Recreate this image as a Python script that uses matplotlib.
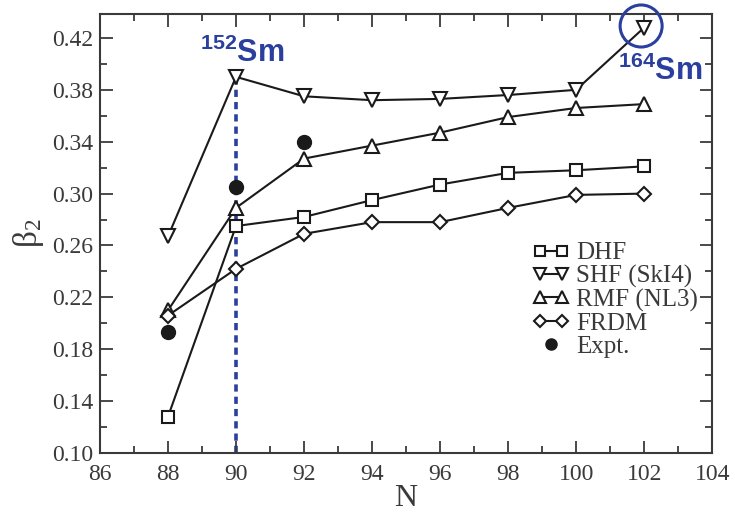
import matplotlib
matplotlib.use("Agg")
import matplotlib.pyplot as plt
from matplotlib.patches import Ellipse
from matplotlib.ticker import MultipleLocator
from matplotlib.legend_handler import HandlerLine2D

# Quadrupole deformation of Sm isotopes versus neutron number
N = [88, 90, 92, 94, 96, 98, 100, 102]
dhf = [0.128, 0.275, 0.282, 0.295, 0.307, 0.316, 0.318, 0.321]
shf = [0.267, 0.390, 0.375, 0.372, 0.373, 0.376, 0.380, 0.428]
rmf = [0.210, 0.289, 0.327, 0.337, 0.347, 0.359, 0.366, 0.369]
frdm = [0.206, 0.242, 0.269, 0.278, 0.278, 0.289, 0.299, 0.300]
expt_N = [88, 90, 92]
expt = [0.193, 0.305, 0.340]

xticks = [86, 88, 90, 92, 94, 96, 98, 100, 102, 104]
yticks = [0.10, 0.14, 0.18, 0.22, 0.26, 0.30, 0.34, 0.38, 0.42]

plt.rcParams["mathtext.fontset"] = "custom"
plt.rcParams["mathtext.rm"] = "Liberation Serif"
plt.rcParams["mathtext.it"] = "Liberation Serif"
plt.rcParams["mathtext.bf"] = "Liberation Sans:bold"

serif = ["Liberation Serif", "DejaVu Serif"]
blue = "#2a3f9e"
dark = "#3a3a3a"
ink = "#1a1a1a"

fig = plt.figure(figsize=(7.35, 5.16), dpi=100)
ax = fig.add_axes([0.136, 0.122, 0.833, 0.851])

def style(ms):
    return dict(color=ink, lw=1.5, markersize=ms, markerfacecolor="white",
                markeredgecolor=ink, markeredgewidth=1.5)

ax.plot(N, dhf, marker="s", label="DHF", **style(9))
ax.plot(N, shf, marker="v", label="SHF (SkI4)", **style(10))
ax.plot(N, rmf, marker="^", label="RMF (NL3)", **style(10))
ax.plot(N, frdm, marker="D", label="FRDM", **style(7.5))
expt_line, = ax.plot(expt_N, expt, "o", color=ink, markersize=10, label="Expt.", zorder=4)

# 152Sm marker line and 164Sm highlight
ax.plot([90, 90], [0.10, shf[1]], ls=(0, (2.0, 1.4)), color=blue, lw=2.6, zorder=1)
ax.text(90.18, 0.4015, r"$\mathbf{^{152}}$Sm", color=blue, fontsize=22,
        fontweight="bold", family="Liberation Sans", ha="center", va="baseline")
ax.text(101.22, 0.3876, r"$\mathbf{^{164}}$Sm", color=blue, fontsize=22,
        fontweight="bold", family="Liberation Sans", ha="left", va="baseline")
ax.add_patch(Ellipse((101.91, 0.4292), width=1.235, height=0.0324, fill=False,
                     edgecolor=blue, lw=2.2, zorder=5, clip_on=False))

ax.set_xlim(86, 104)
ax.set_ylim(0.10, 0.4385)
ax.set_xticks(xticks)
ax.set_yticks(yticks)
ax.set_xticklabels([str(t) for t in xticks], family=serif, fontsize=17, color=dark)
ax.set_yticklabels([f"{t:.2f}" for t in yticks], family=serif, fontsize=17, color=dark)
ax.xaxis.set_minor_locator(MultipleLocator(1))
ax.yaxis.set_minor_locator(MultipleLocator(0.02))
ax.tick_params(which="both", direction="in", top=True, right=True, color=dark, width=1.3)
ax.tick_params(which="major", length=9)
ax.tick_params(which="minor", length=5)
ax.tick_params(axis="x", which="major", pad=8)
ax.tick_params(axis="y", which="major", pad=5)
for s in ax.spines.values():
    s.set_color(dark)
    s.set_linewidth(1.5)

ax.set_xlabel("N", family=serif, fontsize=23, color=dark, labelpad=-1)
ax.set_ylabel(r"$\mathrm{\beta_2}$", fontsize=24, color=dark, labelpad=4)

leg = ax.legend(loc="center left", bbox_to_anchor=(0.706, 0.349), numpoints=2,
                frameon=False, prop={"family": serif, "size": 18},
                handlelength=1.5, handletextpad=0.25, labelspacing=0.02,
                borderpad=0, borderaxespad=0, markerscale=0.8,
                handler_map={expt_line: HandlerLine2D(numpoints=1)})
for t in leg.get_texts():
    t.set_color(dark)

fig.savefig("out.png", dpi=100)
